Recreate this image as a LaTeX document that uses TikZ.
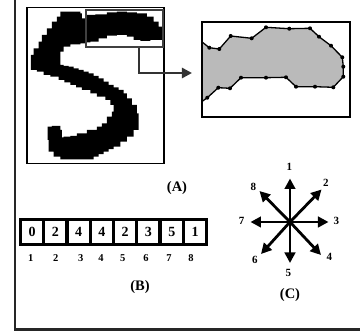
\documentclass[tikz,border=0pt]{standalone}
\usepackage{fontspec}
\setmainfont{Liberation Serif}
\usetikzlibrary{arrows.meta}
\begin{document}
\begin{tikzpicture}[x=1pt,y=-1pt,
  caption/.style={font=\bfseries\fontsize{14.5}{15}\selectfont, inner sep=0pt},
  celltext/.style={font=\bfseries\fontsize{14}{14}\selectfont},
  cellbox/.style={fill=white, minimum width=20pt, minimum height=21.5pt, inner sep=0pt, celltext},
  idx/.style={font=\bfseries\fontsize{10.5}{11}\selectfont, inner sep=0pt},
  dirlbl/.style={font=\bfseries\fontsize{11}{11}\selectfont, inner sep=0pt},
  dirarrow/.style={line width=2.8pt, -{Triangle[length=10.5pt,width=10.5pt]}},
  pt/.style={fill=black, radius=2pt}]
\useasboundingbox (0,0) rectangle (360,334);

% page frame (left and bottom rules)
\draw[line width=2.5pt, black!85] (15,0) -- (15,329.5) -- (360,329.5);

% ---- (A) handwritten digit, traced on a pixel staircase ----
\fill[black] (63.7,11.7) |- (80.3,11.7) |- (82,13.3) |- (83.7,18.3) |- (87,18.3) |- (95.3,15)
  |- (107,14.3) |- (117,12.3) |- (127,11.7) |- (137,12.3) |- (147,13.3) |- (153.7,16.7)
  |- (158.7,21.7) |- (162,26.7) |- (163,31.7) |- (162,36.7) |- (158.7,40) |- (150.3,40)
  |- (140.3,41) |- (133.7,40) |- (127,36.7) |- (117,35) |- (107,35.7) |- (98.7,38.3)
  |- (90.3,41.7) |- (86.3,42.3) |- (80.3,43.3) |- (70.3,44.3) |- (63.7,46.7) |- (60.3,51.7)
  |- (60.3,63.3) |- (63.7,65) |- (68.7,66) |- (73.7,66.7) |- (78.7,68.3) |- (83.7,70)
  |- (88.7,71.7) |- (93.7,73.3) |- (98.7,75.8) |- (103.7,78.3) |- (108.7,81.7)
  |- (113.7,85) |- (118.7,87.5) |- (123.7,90) |- (127,93.3) |- (132,98.3) |- (137,105) |- (138.7,113.3)
  |- (138.7,123.3) |- (133.7,130) |- (127,136.7) |- (120.3,141.7) |- (113.7,146.7)
  |- (108.7,149.2) |- (103.7,151.7) |- (98.7,154.2) |- (93.7,156.7) |- (83.7,159.3) |- (60.3,159.3) |- (53.7,156.7)
  |- (48.7,151.7) |- (47.7,140) |- (47.7,130) |- (52,126.7) |- (60.3,126) |- (62,130)
  |- (62,136.7) |- (63.7,137.3) |- (70.3,136.7) |- (77,136) |- (87,133.3) |- (97,130) |- (102,126.7) |- (107,123.3)
  |- (112,116.7) |- (113.7,111.7) |- (110.3,105) |- (105.3,100) |- (97,96.7) |- (90.3,93.3)
  |- (82,90) |- (76.2,87.5) |- (70.3,85) |- (64.5,82.5) |- (58.7,80) |- (50.3,76.7) |- (43.7,75) |- (37,71.7) |- (31,70)
  |- (31,58.3) |- (33.7,55) |- (38.7,48.3) |- (42,41.7) |- (47,35) |- (52,28.3) |- (57,21.7)
  |- (60.3,16.7) |- cycle;

\node[draw=black, line width=1.3pt, minimum width=137pt, minimum height=156pt, inner sep=0pt]
  (imgA) at (95.5,85.5) {};
\node[draw=black!75, line width=1.4pt, minimum width=77pt, minimum height=37pt, inner sep=0pt]
  (zoomsrc) at (124.5,28.5) {};

% enlarged contour window
\node[minimum width=148pt, minimum height=95pt, inner sep=0pt] (zoomwin) at (276,69.5) {};
\fill[black!27] (201.7,41.7) -- (209.3,47.7) -- (219.3,49) -- (230.7,36) -- (251.7,38.3)
  -- (266,27.3) -- (289.3,28.7) -- (310,28.3) -- (319,36.7) -- (331,45.7) -- (342.3,57.3)
  -- (343.3,66.7) -- (343.3,76.7) -- (333.3,87.3) -- (315,86.7) -- (296,86.7) -- (286,77.3)
  -- (266,77.7) -- (241,77.7) -- (230,88.3) -- (218.3,87.7) -- (207.3,97.7) -- (201.7,101.7)
  -- cycle;
\draw[line width=1.3pt] (201.7,41.7) -- (209.3,47.7) -- (219.3,49) -- (230.7,36) -- (251.7,38.3)
  -- (266,27.3) -- (289.3,28.7) -- (310,28.3) -- (319,36.7) -- (331,45.7) -- (342.3,57.3)
  -- (343.3,66.7) -- (343.3,76.7) -- (333.3,87.3) -- (315,86.7) -- (296,86.7) -- (286,77.3)
  -- (266,77.7) -- (241,77.7) -- (230,88.3) -- (218.3,87.7) -- (207.3,97.7) -- (201.7,101.7);
\foreach \p in {(209.3,47.7),(219.3,49),(230.7,36),(251.7,38.3),(266,27.3),(289.3,28.7),
  (310,28.3),(319,36.7),(331,45.7),(342.3,57.3),(343.3,66.7),(343.3,76.7),(333.3,87.3),
  (315,86.7),(296,86.7),(286,77.3),(266,77.7),(241,77.7),(230,88.3),(218.3,87.7),(207.3,97.7)}
  \fill[pt] \p circle[];
\draw[line width=2pt] (zoomwin.north west) rectangle (zoomwin.south east);

% link from the selected region to the window
\coordinate (bend) at (139,73);
\draw[black!80, line width=2.6pt, -{Triangle[length=10pt,width=10pt]}]
  (zoomsrc.south -| bend) -- (bend) -- (192,73);

\node[caption] (capA) at (177,188) {(A)};

% ---- (B) chain code array ----
\node[fill=black, minimum width=189pt, minimum height=27.5pt, inner sep=0pt] (arr) at (113.5,231.8) {};
\foreach \v [count=\i] in {0,2,4,4,2,3,5,1}
  \node[cellbox] (cell\i) at ({32+(\i-1)*23.3},232.2) {\v};
\foreach \x [count=\i] in {30.7,55.7,80.7,101,122.7,146,169,191}
  \node[idx] (pos\i) at (\x,258.3) {\i};
\node[caption] (capB) at (140,287) {(B)};

% ---- (C) eight directions ----
\coordinate (ctr) at (290,222);
\coordinate (d1) at (290,178.5);
\coordinate (d2) at (321.5,189.5);
\coordinate (d3) at (328.5,222);
\coordinate (d4) at (321,255);
\coordinate (d5) at (290,263);
\coordinate (d6) at (261,254);
\coordinate (d7) at (250.5,222);
\coordinate (d8) at (259.5,191);
\foreach \k in {1,...,8} \draw[dirarrow] (ctr) -- (d\k);
\node[dirlbl] (l1) at (289.3,166.7) {1};
\node[dirlbl] (l2) at (326,182.7) {2};
\node[dirlbl] (l3) at (336.5,221) {3};
\node[dirlbl] (l4) at (329.5,257.3) {4};
\node[dirlbl] (l5) at (288.3,273.3) {5};
\node[dirlbl] (l6) at (255,260) {6};
\node[dirlbl] (l7) at (241.7,221) {7};
\node[dirlbl] (l8) at (253.3,187.3) {8};
\node[caption] (capC) at (290,295) {(C)};
\end{tikzpicture}
\end{document}
